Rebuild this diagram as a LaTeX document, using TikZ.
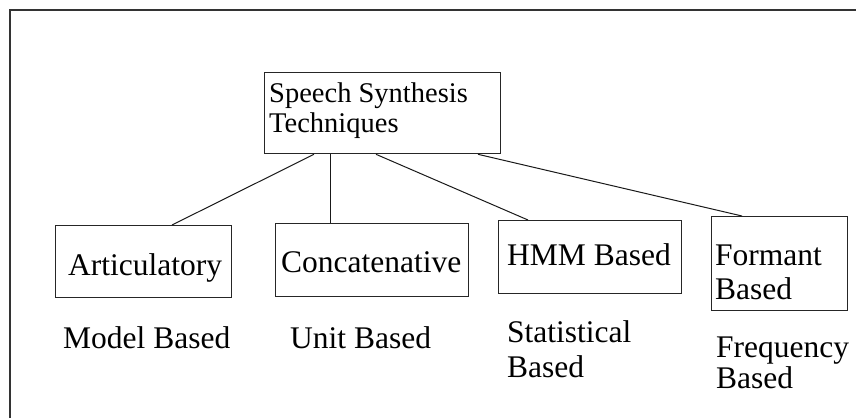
\documentclass[tikz,border=0pt]{standalone}
\usepackage{fontspec}
\setmainfont{Liberation Serif}
\usetikzlibrary{calc}
\begin{document}
\begin{tikzpicture}[x=1pt,y=-1pt,
  boxnode/.style={draw=black!85,line width=1.3pt,rectangle,inner sep=0pt,anchor=north west},
  lbl/.style={anchor=base west,inner sep=0pt,font=\fontsize{31.5}{35}\selectfont},
  toplbl/.style={lbl,font=\fontsize{28.5}{32}\selectfont},
  link/.style={draw=black!90,line width=1pt}]
\useasboundingbox (0,0) rectangle (856,418);
\fill[white] (0,0) rectangle (856,418);
% outer frame (open at right and bottom)
\coordinate (fb) at (10,418);
\coordinate (fc) at (10,10);
\coordinate (fr) at (856,10);
\draw[black!80,line width=1.6pt] (fb) -- (fc) -- (fr);
% boxes
\node[boxnode,minimum width=236pt,minimum height=81pt] (top) at (264,72) {};
\node[boxnode,minimum width=176pt,minimum height=72pt] (art) at (55,225) {};
\node[boxnode,minimum width=193pt,minimum height=73pt] (con) at (275,223) {};
\node[boxnode,minimum width=183pt,minimum height=73pt] (hmm) at (498,220) {};
\node[boxnode,minimum width=136pt,minimum height=94pt] (for) at (711,216) {};
% box texts
\node[toplbl] (t1) at (269,102) {Speech Synthesis};
\node[toplbl] (t2) at (269,132) {Techniques};
\node[lbl] (a1) at (68,275) {Articulatory};
\node[lbl] (c1) at (281,272) {Concatenative};
\node[lbl] (h1) at (507,265) {HMM Based};
\node[lbl] (f1) at (715,265) {Formant};
\node[lbl] (f2) at (715,299) {Based};
% captions
\node[lbl] (m1) at (63,348) {Model Based};
\node[lbl] (u1) at (290,348) {Unit Based};
\node[lbl] (s1) at (507,342) {Statistical};
\node[lbl] (s2) at (507,377) {Based};
\node[lbl] (q1) at (716,357) {Frequency};
\node[lbl] (q2) at (716,388) {Based};
% connectors
\draw[link] ($(top.south west)+(50,0)$) -- ($(art.north west)+(117,0)$);
\draw[link] ($(top.south west)+(66,0)$) -- ($(con.north west)+(55,0)$);
\draw[link] ($(top.south west)+(112,0)$) -- ($(hmm.north west)+(30,0)$);
\draw[link] ($(top.south west)+(214,0)$) -- ($(for.north west)+(31,0)$);
\end{tikzpicture}
\end{document}
